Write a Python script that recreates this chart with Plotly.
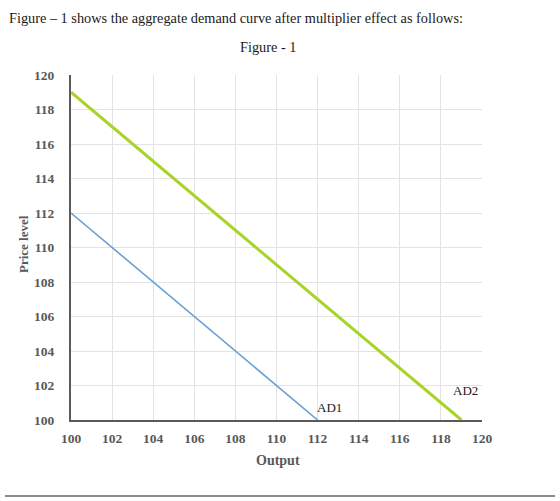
import plotly.graph_objects as go

ad1_x = [100, 112]
ad1_y = [112, 100]
ad2_x = [100, 119]
ad2_y = [119, 100]
tick_vals = list(range(100, 121, 2))
tick_text = [f"<b>{v}</b>" for v in tick_vals]

L, R, T, B = 71, 482, 75, 420
W, H = 560, 501
pw, ph = R - L, B - T

def px(xp):
    return (xp - L) / pw

def py(yp):
    return (B - yp) / ph

fig = go.Figure()
fig.add_trace(go.Scatter(x=ad1_x, y=ad1_y, mode="lines",
                         line=dict(color="#6A9FD2", width=1.6), showlegend=False))
fig.add_trace(go.Scatter(x=ad2_x, y=ad2_y, mode="lines",
                         line=dict(color="#A8D42A", width=3), showlegend=False))

font = "Liberation Serif"
fig.update_layout(
    width=W, height=H, margin=dict(l=L, r=W - R, t=T, b=H - B),
    paper_bgcolor="white", plot_bgcolor="white",
    font=dict(family=font, size=13.5, color="#595959"),
)
for upd in (fig.update_xaxes, fig.update_yaxes):
    upd(range=[100, 120], tickmode="array", tickvals=tick_vals, ticktext=tick_text,
        showgrid=True, gridcolor="#E3E3E3", gridwidth=1, zeroline=False, ticks="",
        showline=True, linecolor="#5A5A5A", linewidth=2,
        tickfont=dict(family=font, size=13.5, color="#595959"))
fig.update_xaxes(ticklabelstandoff=5)
fig.update_yaxes(ticklabelstandoff=12)

ann = []
ann.append(dict(text="Figure – 1 shows the aggregate demand curve after multiplier effect as follows:",
                xref="paper", yref="paper", x=px(7), y=py(18), xanchor="left", yanchor="middle",
                showarrow=False, font=dict(family=font, size=14.3, color="#1a1a1a")))
ann.append(dict(text="Figure - 1", xref="paper", yref="paper", x=px(268), y=py(47),
                xanchor="center", yanchor="middle", showarrow=False,
                font=dict(family=font, size=14.3, color="#1a1a1a")))
ann.append(dict(text="<b>Price level</b>", xref="paper", yref="paper", x=px(23), y=py(244),
                xanchor="center", yanchor="middle", textangle=-90, showarrow=False,
                font=dict(family=font, size=13, color="#595959")))
ann.append(dict(text="<b>Output</b>", xref="paper", yref="paper", x=px(278), y=py(460),
                xanchor="center", yanchor="middle", showarrow=False,
                font=dict(family=font, size=14, color="#595959")))
ann.append(dict(text="AD1", x=112.6, y=100.75, xref="x", yref="y", showarrow=False,
                font=dict(family=font, size=13, color="#1a1a1a")))
ann.append(dict(text="AD2", x=119.2, y=101.7, xref="x", yref="y", showarrow=False,
                font=dict(family=font, size=13, color="#1a1a1a")))
fig.update_layout(annotations=ann)

fig.add_shape(type="line", xref="paper", yref="paper", x0=px(5), x1=px(555),
              y0=py(496), y1=py(496), line=dict(color="#666666", width=1.5))

fig.write_html("out.html")
